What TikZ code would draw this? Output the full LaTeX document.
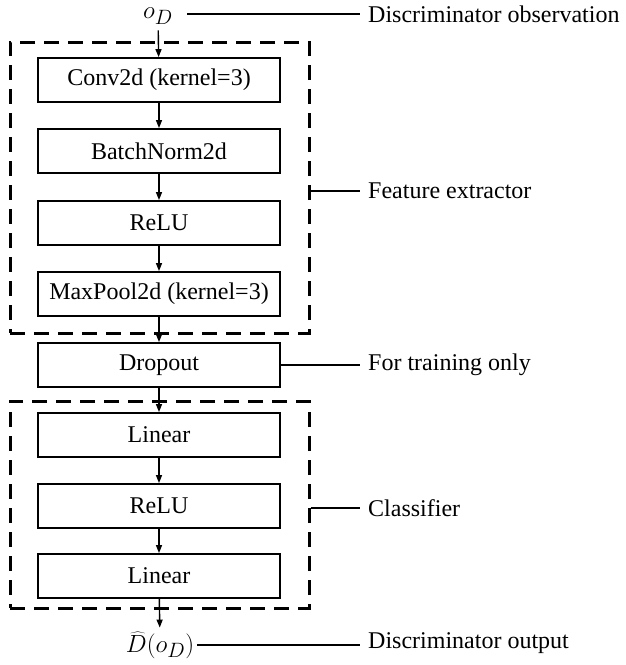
\documentclass[tikz,border=0pt]{standalone}
\usepackage{fontspec}
\setmainfont{Liberation Serif}
\usetikzlibrary{arrows.meta}
\begin{document}
\begin{tikzpicture}[x=1pt,y=-1pt,
  font=\fontsize{24}{28}\selectfont,
  layer/.style={draw=black, line width=1.8pt, minimum width=242pt, minimum height=44pt, inner sep=0pt},
  group/.style={draw=black, line width=3pt, dash pattern=on 15pt off 9pt, minimum width=299pt, inner sep=0pt},
  flow/.style={line width=1.4pt, -{Triangle[length=8pt,width=6pt]}},
  tag/.style={anchor=west, inner xsep=8pt, inner ysep=0pt},
  mathtext/.style={font=\fontsize{29}{32}\selectfont},
  lead/.style={line width=1.8pt}]
\useasboundingbox (0,0) rectangle (626,665);

% dashed groupings
\node[group, minimum height=291pt] (fe) at (159.5,187.5) {};
\node[group, minimum height=207pt] (cl) at (159.5,504.5) {};

% input and output
\node[mathtext, inner xsep=14pt, inner ysep=1pt] (od) at (158,16) {$o_D$};
\node[mathtext, inner xsep=3pt, inner ysep=4pt] (dh) at (160,645) {$\widehat{D}(o_D)$};

% layers
\node[layer] (conv) at (159,80)  {Conv2d (kernel=3)};
\node[layer] (bn)   at (159,151) {BatchNorm2d};
\node[layer] (relu) at (159,223) {ReLU};
\node[layer] (pool) at (159,294) {MaxPool2d (kernel=3)};
\node[layer] (drop) at (159,365) {Dropout};
\node[layer] (lin)  at (159,435) {Linear};
\node[layer] (relub) at (159,506) {ReLU};
\node[layer] (linb) at (159,576) {Linear};

% data flow
\draw[flow, shorten <=5pt] (od) -- (conv);
\draw[flow] (conv) -- (bn);
\draw[flow] (bn) -- (relu);
\draw[flow] (relu) -- (pool);
\draw[flow] (pool) -- (drop);
\draw[flow] (drop) -- (lin);
\draw[flow] (lin) -- (relub);
\draw[flow] (relub) -- (linb);
\draw[flow] (linb) -- (dh);

% annotations
\node[tag] (t1) at (360,14)  {Discriminator observation};
\node[tag] (t2) at (360,191) {Feature extractor};
\node[tag] (t3) at (360,365) {For training only};
\node[tag] (t4) at (360,508) {Classifier};
\node[tag] (t5) at (360,643) {Discriminator output};

\draw[lead] (od.east |- t1.west) -- (t1.west);
\draw[lead] (fe.east |- t2.west) -- (t2.west);
\draw[lead] (drop.east) -- (drop.east -| t3.west);
\draw[lead] (cl.east |- t4.west) -- (t4.west);
\draw[lead] (dh.east) -- (dh.east -| t5.west);
\end{tikzpicture}
\end{document}
